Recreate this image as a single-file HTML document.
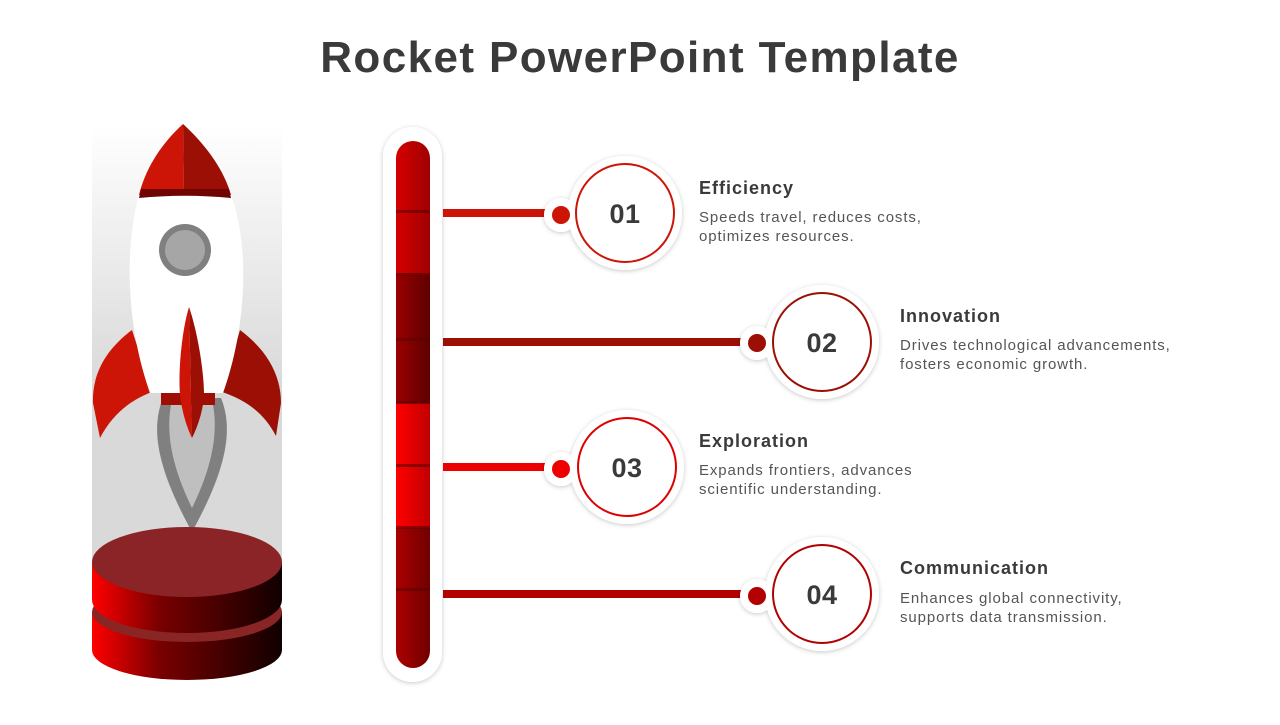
<!DOCTYPE html>
<html><head><meta charset="utf-8"><style>
html,body{margin:0;padding:0;background:#fff;}
body{width:1280px;height:720px;overflow:hidden;font-family:"Liberation Sans",sans-serif;}
</style></head><body>
<svg width="1280" height="720" viewBox="0 0 1280 720" xmlns="http://www.w3.org/2000/svg">
<defs>
<linearGradient id="bg" x1="0" y1="0" x2="0" y2="1"><stop offset="0" stop-color="#fff"/><stop offset="0.55" stop-color="#d9d9d9"/><stop offset="1" stop-color="#d9d9d9"/></linearGradient>
<linearGradient id="cyl" x1="0" y1="0" x2="1" y2="0"><stop offset="0" stop-color="#ff0000"/><stop offset="0.35" stop-color="#7a0000"/><stop offset="1" stop-color="#100000"/></linearGradient>
<linearGradient id="s1" x1="0" y1="0" x2="1" y2="0"><stop offset="0" stop-color="#d40000"/><stop offset="1" stop-color="#a00000"/></linearGradient>
<linearGradient id="s2" x1="0" y1="0" x2="1" y2="0"><stop offset="0" stop-color="#9a0000"/><stop offset="1" stop-color="#5e0000"/></linearGradient>
<linearGradient id="s3" x1="0" y1="0" x2="1" y2="0"><stop offset="0" stop-color="#ff0000"/><stop offset="1" stop-color="#c00000"/></linearGradient>
<linearGradient id="s4" x1="0" y1="0" x2="1" y2="0"><stop offset="0" stop-color="#ac0000"/><stop offset="1" stop-color="#700000"/></linearGradient>
<clipPath id="tc"><rect x="396" y="141" width="34" height="527" rx="17"/></clipPath>
<filter id="sh" x="-30%" y="-30%" width="160%" height="160%"><feDropShadow dx="0" dy="1" stdDeviation="2.5" flood-color="#000" flood-opacity="0.22"/></filter>
</defs>

<text x="640" y="72" text-anchor="middle" font-size="44" font-weight="bold" fill="#3a3a3a" letter-spacing="1.4">Rocket PowerPoint Template</text>

<!-- rocket -->
<rect x="92" y="125" width="190" height="475" fill="url(#bg)"/>
<path d="M163 398 C150 430 158 470 192 532 C226 470 234 430 221 398 Z" fill="#808080"/>
<path d="M172 400 C165 430 171 465 192 508 C213 465 219 430 212 400 Z" fill="#bfbfbf"/>
<path d="M132 330 C105 350 92 375 93 403 L100 438 C112 415 130 400 152 392 Z" fill="#cc1407"/>
<path d="M240 330 C267 350 281 375 281 403 L276 436 C264 413 246 400 222 392 Z" fill="#9b0f05"/>
<path d="M139 195 C126 240 124 320 150 393 L223 393 C249 320 248 240 231 195 Z" fill="#fff"/>
<path d="M183 124 C160 145 145 170 139 195 L184 192 Z" fill="#cc1407"/>
<path d="M183 124 C206 145 224 170 231 195 L184 192 Z" fill="#9b0f05"/>
<path d="M141 189 L229 189 L231 198 C200 195 170 195 139 198 Z" fill="#6e0503"/>
<circle cx="185" cy="250" r="26" fill="#808080"/>
<circle cx="185" cy="250" r="20" fill="#a6a6a6"/>
<rect x="161" y="393" width="54" height="12" fill="#a00d05"/>
<path d="M189 307 C182 330 178 370 180 395 C182 412 187 428 192 438 Z" fill="#cc1407"/>
<path d="M189 307 C197 330 204 370 204 395 C203 412 197 428 192 438 Z" fill="#9b0f05"/>
<rect x="92" y="612" width="190" height="38" fill="url(#cyl)"/>
<ellipse cx="187" cy="650" rx="95" ry="30" fill="url(#cyl)"/>
<ellipse cx="187" cy="612" rx="95" ry="30" fill="#8a2525"/>
<rect x="92" y="562" width="190" height="38" fill="url(#cyl)"/>
<ellipse cx="187" cy="600" rx="95" ry="33" fill="url(#cyl)"/>
<ellipse cx="187" cy="562" rx="95" ry="35" fill="#8a2427"/>

<!-- thermometer -->
<rect x="383" y="127" width="59" height="555" rx="29.5" fill="#fff" filter="url(#sh)"/>
<g clip-path="url(#tc)">
<rect x="396" y="141" width="34" height="134" fill="url(#s1)"/>
<rect x="396" y="275" width="34" height="128" fill="url(#s2)"/>
<rect x="396" y="403" width="34" height="125" fill="url(#s3)"/>
<rect x="396" y="528" width="34" height="140" fill="url(#s4)"/>
<g fill="#5a0000" opacity="0.6">
<rect x="396" y="210" width="34" height="3"/><rect x="396" y="273" width="34" height="3"/>
<rect x="396" y="338" width="34" height="3"/><rect x="396" y="401" width="34" height="3"/>
<rect x="396" y="464" width="34" height="3"/><rect x="396" y="526" width="34" height="3"/>
<rect x="396" y="588" width="34" height="3"/>
</g>
</g>

<rect x="443" y="209" width="110" height="8" fill="#cc1407"/>
<rect x="443" y="338" width="305" height="8" fill="#9b0f05"/>
<rect x="443" y="463" width="110" height="8" fill="#ee0000"/>
<rect x="443" y="590" width="305" height="8" fill="#b30000"/>

<g filter="url(#sh)">
<circle cx="561" cy="215" r="17" fill="#fff"/><circle cx="625" cy="213" r="57" fill="#fff"/>
<circle cx="757" cy="343" r="17" fill="#fff"/><circle cx="822" cy="342" r="57" fill="#fff"/>
<circle cx="561" cy="469" r="17" fill="#fff"/><circle cx="627" cy="467" r="57" fill="#fff"/>
<circle cx="757" cy="596" r="17" fill="#fff"/><circle cx="822" cy="594" r="57" fill="#fff"/>
</g>
<circle cx="561" cy="215" r="17" fill="#fff"/><circle cx="625" cy="213" r="57" fill="#fff"/>
<circle cx="757" cy="343" r="17" fill="#fff"/><circle cx="822" cy="342" r="57" fill="#fff"/>
<circle cx="561" cy="469" r="17" fill="#fff"/><circle cx="627" cy="467" r="57" fill="#fff"/>
<circle cx="757" cy="596" r="17" fill="#fff"/><circle cx="822" cy="594" r="57" fill="#fff"/>

<circle cx="561" cy="215" r="9" fill="#cc1407"/><circle cx="625" cy="213" r="49" fill="none" stroke="#cc1407" stroke-width="2"/>
<circle cx="757" cy="343" r="9" fill="#9b0f05"/><circle cx="822" cy="342" r="49" fill="none" stroke="#9b0f05" stroke-width="2"/>
<circle cx="561" cy="469" r="9" fill="#ee0000"/><circle cx="627" cy="467" r="49" fill="none" stroke="#dd0000" stroke-width="2"/>
<circle cx="757" cy="596" r="9" fill="#b30000"/><circle cx="822" cy="594" r="49" fill="none" stroke="#b30000" stroke-width="2"/>

<g font-size="27" font-weight="bold" fill="#3a3a3a" text-anchor="middle" letter-spacing="0.5">
<text x="625" y="223">01</text><text x="822" y="352">02</text>
<text x="627" y="477">03</text><text x="822" y="604">04</text>
</g>

<g fill="#3a3a3a">
<g font-size="18" font-weight="bold" letter-spacing="1">
<text x="699" y="194">Efficiency</text>
<text x="900" y="322">Innovation</text>
<text x="699" y="447">Exploration</text>
<text x="900" y="574">Communication</text>
</g>
<g font-size="15" fill="#555" letter-spacing="0.9">
<text x="699" y="222">Speeds travel, reduces costs,</text>
<text x="699" y="241">optimizes resources.</text>
<text x="900" y="350">Drives technological advancements,</text>
<text x="900" y="369">fosters economic growth.</text>
<text x="699" y="475">Expands frontiers, advances</text>
<text x="699" y="494">scientific understanding.</text>
<text x="900" y="603">Enhances global connectivity,</text>
<text x="900" y="622">supports data transmission.</text>
</g>
</g>
</svg>
</body></html>
